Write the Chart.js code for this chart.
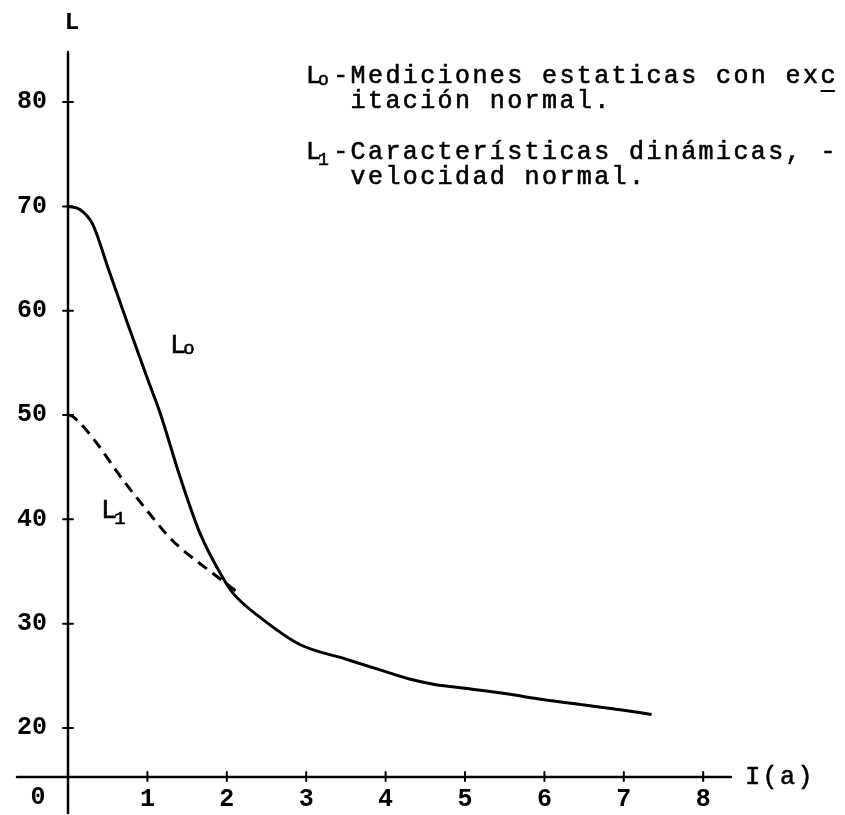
<!DOCTYPE html>
<html>
<head>
<meta charset="utf-8">
<script src="https://cdn.jsdelivr.net/npm/chart.js@4"></script>
<style>
  html, body { margin: 0; padding: 0; background: #fff; }
  #wrap { width: 845px; height: 815px; }
</style>
</head>
<body>
<div id="wrap"><canvas id="grafico" width="845" height="815"></canvas></div>
<script>
// Datos
const xTicks = [1, 2, 3, 4, 5, 6, 7, 8];
const yTicks = [20, 30, 40, 50, 60, 70, 80];

// L0 - mediciones estaticas
const l0X = [0, 0.15, 0.31, 0.5, 0.74, 1.0, 1.16, 1.41, 1.66, 1.95, 2.08, 2.42, 2.92, 3.5, 4.0, 4.3, 4.6, 5.0, 5.5, 6.0, 6.5, 7.0, 7.35];
const l0Y = [70, 69.7, 68.3, 64.2, 59.0, 53.5, 50.2, 44.1, 38.7, 34.4, 32.9, 30.6, 28.0, 26.6, 25.4, 24.7, 24.2, 23.8, 23.3, 22.7, 22.2, 21.7, 21.3];

// L1 - caracteristicas dinamicas
const l1X = [0, 0.05, 0.28, 0.69, 1.0, 1.25, 1.41, 1.88, 2.12];
const l1Y = [50, 49.9, 48.1, 43.8, 40.8, 38.5, 37.3, 34.5, 33.1];

const FONT = "'Liberation Mono', 'DejaVu Sans Mono', monospace";

function puntos(xs, ys) {
    return xs.map(function(x, i) { return { x: x, y: ys[i] }; });
}

// Ejes, marcas y textos dibujados a mano (como en el original)
const dibujoPlugin = {
    id: 'dibujo',
    afterDatasetsDraw: function(chart) {
        const ctx = chart.ctx;
        const xs = chart.scales.x;
        const ys = chart.scales.y;
        const x0 = xs.getPixelForValue(0);
        const yBase = ys.getPixelForValue(ys.min);
        ctx.save();
        ctx.strokeStyle = '#000';
        ctx.fillStyle = '#000';
        ctx.lineWidth = 2.5;
        ctx.lineCap = 'round';

        // eje x
        ctx.beginPath();
        ctx.moveTo(17, yBase);
        ctx.lineTo(xs.getPixelForValue(xs.max), yBase);
        ctx.stroke();
        // eje y
        ctx.beginPath();
        ctx.moveTo(x0, ys.getPixelForValue(ys.max));
        ctx.lineTo(x0, 813);
        ctx.stroke();

        // marcas
        ctx.lineWidth = 2;
        xTicks.forEach(function(v) {
            const px = xs.getPixelForValue(v);
            ctx.beginPath();
            ctx.moveTo(px, yBase - 5);
            ctx.lineTo(px, yBase + 4);
            ctx.stroke();
        });
        yTicks.forEach(function(v) {
            const py = ys.getPixelForValue(v);
            ctx.beginPath();
            ctx.moveTo(x0 - 5, py);
            ctx.lineTo(x0 + 5, py);
            ctx.stroke();
        });

        // texto a paso fijo, estilo maquina de escribir
        const PASO = 17.4;
        function maquina(t, x, y, size) {
            ctx.font = size + 'px ' + FONT;
            ctx.lineWidth = 0.6;
            const off = (PASO - size * 0.6) / 2;
            for (let i = 0; i < t.length; i++) {
                ctx.fillText(t[i], x + i * PASO + off, y);
                ctx.strokeText(t[i], x + i * PASO + off, y);
            }
        }
        function conSub(txt, sub, x, y, size, dy) {
            ctx.font = size + 'px ' + FONT;
            ctx.lineWidth = 0.6;
            ctx.fillText(txt, x, y);
            ctx.strokeText(txt, x, y);
            const w = ctx.measureText(txt).width;
            ctx.font = Math.round(size * 0.7) + 'px ' + FONT;
            ctx.fillText(sub, x + w - 3, y + dy);
            ctx.strokeText(sub, x + w - 3, y + dy);
        }

        ctx.textBaseline = 'middle';
        ctx.textAlign = 'center';
        ctx.font = 'bold 25px ' + FONT;
        ctx.fillText('0', 38, 798);
        ctx.font = 'bold 24px ' + FONT;
        ctx.fillText('L', 72, 23);
        ctx.textAlign = 'left';
        maquina('I(a)', 744, 777, 25);

        // etiquetas de curvas
        conSub('L', 'o', 170, 346, 27, 3);
        conSub('L', '1', 101, 511, 27, 8);

        // leyenda
        const lx = 306;
        const tx = 332;
        const size = 25;
        conSub('L', 'o', lx, 76, size, 4);
        maquina('-Mediciones estaticas con exc', tx, 76, size);
        maquina('itación normal.', tx + PASO, 101, size);
        // subrayado de la "c"
        const xc = tx + 28 * PASO;
        ctx.lineWidth = 1.8;
        ctx.beginPath();
        ctx.moveTo(xc + 2, 91);
        ctx.lineTo(xc + 15, 91);
        ctx.stroke();
        conSub('L', '1', lx, 152, size, 8);
        maquina('-Características dinámicas, -', tx, 152, size);
        maquina('velocidad normal.', tx + PASO, 177, size);
        ctx.restore();
    }
};

new Chart(document.getElementById('grafico'), {
    type: 'line',
    data: {
        datasets: [
            {
                label: 'Lo',
                data: puntos(l0X, l0Y),
                borderColor: '#000',
                borderWidth: 3,
                pointRadius: 0,
                cubicInterpolationMode: 'monotone',
                fill: false
            },
            {
                label: 'L1',
                data: puntos(l1X, l1Y),
                borderColor: '#000',
                borderWidth: 3,
                borderDash: [11, 7],
                pointRadius: 0,
                cubicInterpolationMode: 'monotone',
                fill: false
            }
        ]
    },
    options: {
        responsive: false,
        animation: false,
        devicePixelRatio: 1,
        layout: { padding: { left: 0, top: 52, right: 114, bottom: 0 } },
        plugins: {
            legend: { display: false },
            tooltip: { enabled: false }
        },
        scales: {
            x: {
                type: 'linear',
                min: 0,
                max: 8.35,
                afterBuildTicks: function(scale) {
                    scale.ticks = xTicks.map(function(v) { return { value: v }; });
                },
                afterFit: function(scale) { scale.height = 38; },
                grid: { display: false, drawTicks: false },
                border: { display: false },
                ticks: {
                    padding: 8,
                    color: '#000',
                    maxRotation: 0,
                    autoSkip: false,
                    font: { family: FONT, size: 25, weight: 'bold' }
                }
            },
            y: {
                type: 'linear',
                min: 15.3,
                max: 84.8,
                afterBuildTicks: function(scale) {
                    scale.ticks = yTicks.map(function(v) { return { value: v }; });
                },
                afterFit: function(scale) { scale.width = 68; },
                grid: { display: false, drawTicks: false },
                border: { display: false },
                ticks: {
                    padding: 21,
                    color: '#000',
                    autoSkip: false,
                    font: { family: FONT, size: 25, weight: 'bold' }
                }
            }
        }
    },
    plugins: [dibujoPlugin]
});
</script>
</body>
</html>
